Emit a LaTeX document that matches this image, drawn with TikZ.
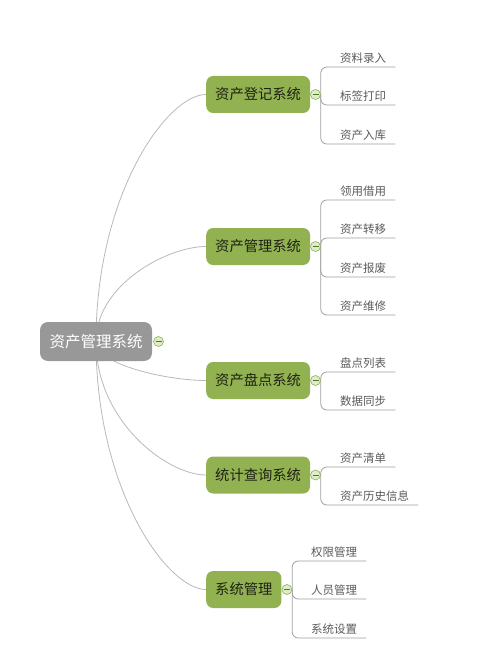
\documentclass[tikz,border=0pt]{standalone}
\usepackage{fontspec}
\setmainfont{Noto Sans CJK SC}
\usepackage{tikz}
\usetikzlibrary{positioning, calc, backgrounds}
\definecolor{rootgray}{RGB}{152,152,152}
\definecolor{topicgreen}{RGB}{146,178,82}
\definecolor{topictext}{RGB}{30,34,20}
\definecolor{leaftext}{RGB}{90,90,90}
\definecolor{trunkgray}{RGB}{185,185,185}
\definecolor{twiggray}{RGB}{160,160,160}
\definecolor{foldfill}{RGB}{222,236,200}
\definecolor{folddraw}{RGB}{140,176,90}
\definecolor{foldmark}{RGB}{80,120,40}

\begin{document}
\begin{tikzpicture}[
  x=1pt, y=-1pt,
  rootbox/.style={fill=rootgray, rounded corners=8pt, text=white,
                  font=\fontsize{15.5}{17}\selectfont,
                  inner xsep=9.5pt, minimum height=39pt},
  topic/.style={fill=topicgreen, rounded corners=7pt, text=topictext,
                font=\fontsize{14.3}{16}\selectfont, anchor=west,
                inner xsep=9pt, minimum height=37pt},
  leaf/.style={anchor=south west, inner xsep=0pt, inner ysep=3pt,
               text=leaftext, font=\fontsize{11.5}{13}\selectfont},
  fold/.style={circle, draw=folddraw, fill=foldfill, minimum size=10pt,
               inner sep=0pt, line width=0.6pt,
               path picture={\draw[foldmark, line width=0.8pt]
                 ([xshift=-3pt]path picture bounding box.center) --
                 ([xshift=3pt]path picture bounding box.center);}},
  trunk/.style={draw=trunkgray, line width=0.8pt},
  twig/.style={draw=twiggray, line width=0.8pt, rounded corners=6pt}]

\useasboundingbox (0,0) rectangle (500,668);

% central topic
\node[rootbox] (root) at (96,341.5) {资产管理系统};
\node[fold, right=1pt of root] (f0) {};

% main branches
\node[topic] (b1) at (206,94.5) {资产登记系统};
\node[topic] (b2) at (206,246.5) {资产管理系统};
\node[topic] (b3) at (206,380.5) {资产盘点系统};
\node[topic] (b4) at (206,475) {统计查询系统};
\node[topic] (b5) at (206,589.5) {系统管理};
\foreach \b/\f in {b1/f1, b2/f2, b3/f3, b4/f4, b5/f5}
  \node[fold, right=0pt of \b] (\f) {};

% leaves
\node[leaf] (l11) at (340,67) {资料录入};
\node[leaf] (l12) at (340,105) {标签打印};
\node[leaf] (l13) at (340,144) {资产入库};

\node[leaf] (l21) at (340,200) {领用借用};
\node[leaf] (l22) at (340,238) {资产转移};
\node[leaf] (l23) at (340,277) {资产报废};
\node[leaf] (l24) at (340,315) {资产维修};

\node[leaf] (l31) at (340,372) {盘点列表};
\node[leaf] (l32) at (340,410) {数据同步};

\node[leaf] (l41) at (340,467) {资产清单};
\node[leaf] (l42) at (340,505) {资产历史信息};

\node[leaf] (l51) at (311,561) {权限管理};
\node[leaf] (l52) at (311,599) {人员管理};
\node[leaf] (l53) at (311,638) {系统设置};

\begin{scope}[on background layer]
  \foreach \b in {b1, b2, b3, b4, b5}
    \draw[trunk] (root.center)
      .. controls ($(root.center)!0.6!(root.center |- \b.west)$)
      and ($(\b.west)!0.35!(\b.west -| root.center)$) .. (\b.west);
  \foreach \f/\l in {f1/l11, f1/l12, f1/l13, f2/l21, f2/l22, f2/l23, f2/l24,
                     f3/l31, f3/l32, f4/l41, f4/l42, f5/l51, f5/l52, f5/l53}
    \draw[twig] (\f.east) |- ([xshift=9pt]\l.south east);
\end{scope}
\end{tikzpicture}
\end{document}
